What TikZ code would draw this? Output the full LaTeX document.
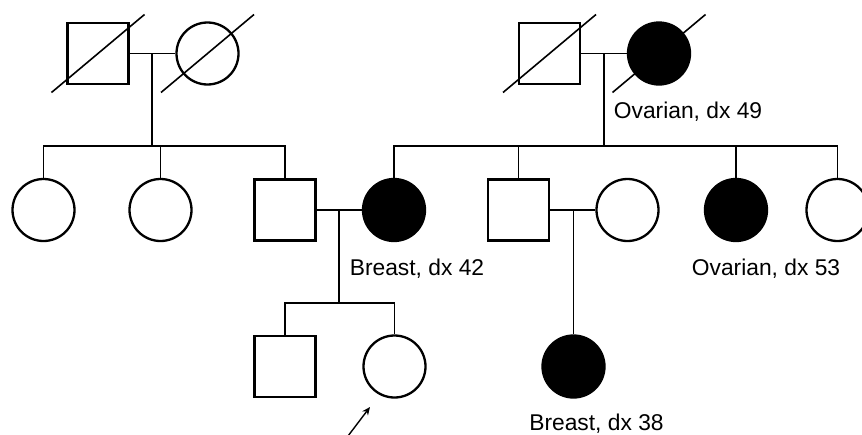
\documentclass[tikz,border=0pt]{standalone}
\usepackage{fontspec}
\setmainfont{Liberation Sans}
\usetikzlibrary{arrows.meta,calc}
\begin{document}
\begin{tikzpicture}[x=1pt,y=-1pt,
  male/.style={draw,line width=2.3pt,minimum size=61pt,inner sep=0pt,rectangle},
  female/.style={draw,line width=2.3pt,minimum size=62pt,inner sep=0pt,circle},
  aff/.style={fill=black},
  rel/.style={line width=1.7pt},
  slash/.style={line width=1.6pt},
  lab/.style={font=\fontsize{22.8}{27}\selectfont,anchor=base,inner sep=0pt}]
\useasboundingbox (0,0) rectangle (862,434);
% generation 1
\node[male] (m1) at (98,53.5) {};
\node[female] (f1) at (207.5,53.5) {};
\node[male] (m2) at (549.5,53.5) {};
\node[female,aff] (f2) at (659,53.5) {};
% generation 2
\node[female] (c1) at (43.5,210) {};
\node[female] (c2) at (160.5,210) {};
\node[male] (s3) at (285,210) {};
\node[female,aff] (w4) at (394,210) {};
\node[male] (s5) at (518.5,210) {};
\node[female] (w5) at (627.5,210) {};
\node[female,aff] (f6) at (736,210) {};
\node[female] (f7) at (837.5,210) {};
% generation 3
\node[male] (g1) at (285,366.5) {};
\node[female] (pro) at (394.5,366.5) {};
\node[female,aff] (g3) at (573.5,366.5) {};
% slashes
\draw[slash] ($(m1)+(-46.5,39)$) -- ($(m1)+(46.5,-39)$);
\draw[slash] ($(f1)+(-46.5,39)$) -- ($(f1)+(46.5,-39)$);
\draw[slash] ($(m2)+(-46.5,39)$) -- ($(m2)+(46.5,-39)$);
\draw[slash] ($(f2)+(-46.5,39)$) -- ($(f2)+(46.5,-39)$);
% couple 1
\coordinate (d1) at (152,53.5);
\coordinate (sib1) at (152,146);
\draw[rel] (m1.east) -- (f1.west);
\draw[rel] (d1) -- (sib1);
\draw[rel] (c1.north) -- (c1.north |- sib1) -- (s3.north |- sib1) -- (s3.north);
\draw[rel] (c2.north) -- (c2.north |- sib1);
% couple 2
\coordinate (d2) at (604,53.5);
\coordinate (sib2) at (604,146);
\draw[rel] (m2.east) -- (f2.west);
\draw[rel] (d2) -- (sib2);
\draw[rel] (w4.north) -- (w4.north |- sib2) -- (f7.north |- sib2) -- (f7.north);
\draw[rel] (s5.north) -- (s5.north |- sib2);
\draw[rel] (f6.north) -- (f6.north |- sib2);
% couple 3
\coordinate (d3) at (339,210);
\coordinate (sib3) at (339,303);
\draw[rel] (s3.east) -- (w4.west);
\draw[rel] (d3) -- (sib3);
\draw[rel] (g1.north) -- (g1.north |- sib3) -- (pro.north |- sib3) -- (pro.north);
% couple 4
\coordinate (d4) at (573.5,210);
\draw[rel] (s5.east) -- (w5.west);
\draw[rel] (d4) -- (g3.north);
% proband arrow
\coordinate (arrtail) at (348,436);
\coordinate (arrtip) at (370,407);
\draw[line width=1.4pt,-{Stealth[length=8pt,width=7pt]}] (arrtail) -- (arrtip);
% labels
\node[lab] (l1) at (688,118) {Ovarian, dx 49};
\node[lab] (l2) at (417,275) {Breast, dx 42};
\node[lab] (l3) at (766,275) {Ovarian, dx 53};
\node[lab] (l4) at (596.5,430) {Breast, dx 38};
\end{tikzpicture}
\end{document}
